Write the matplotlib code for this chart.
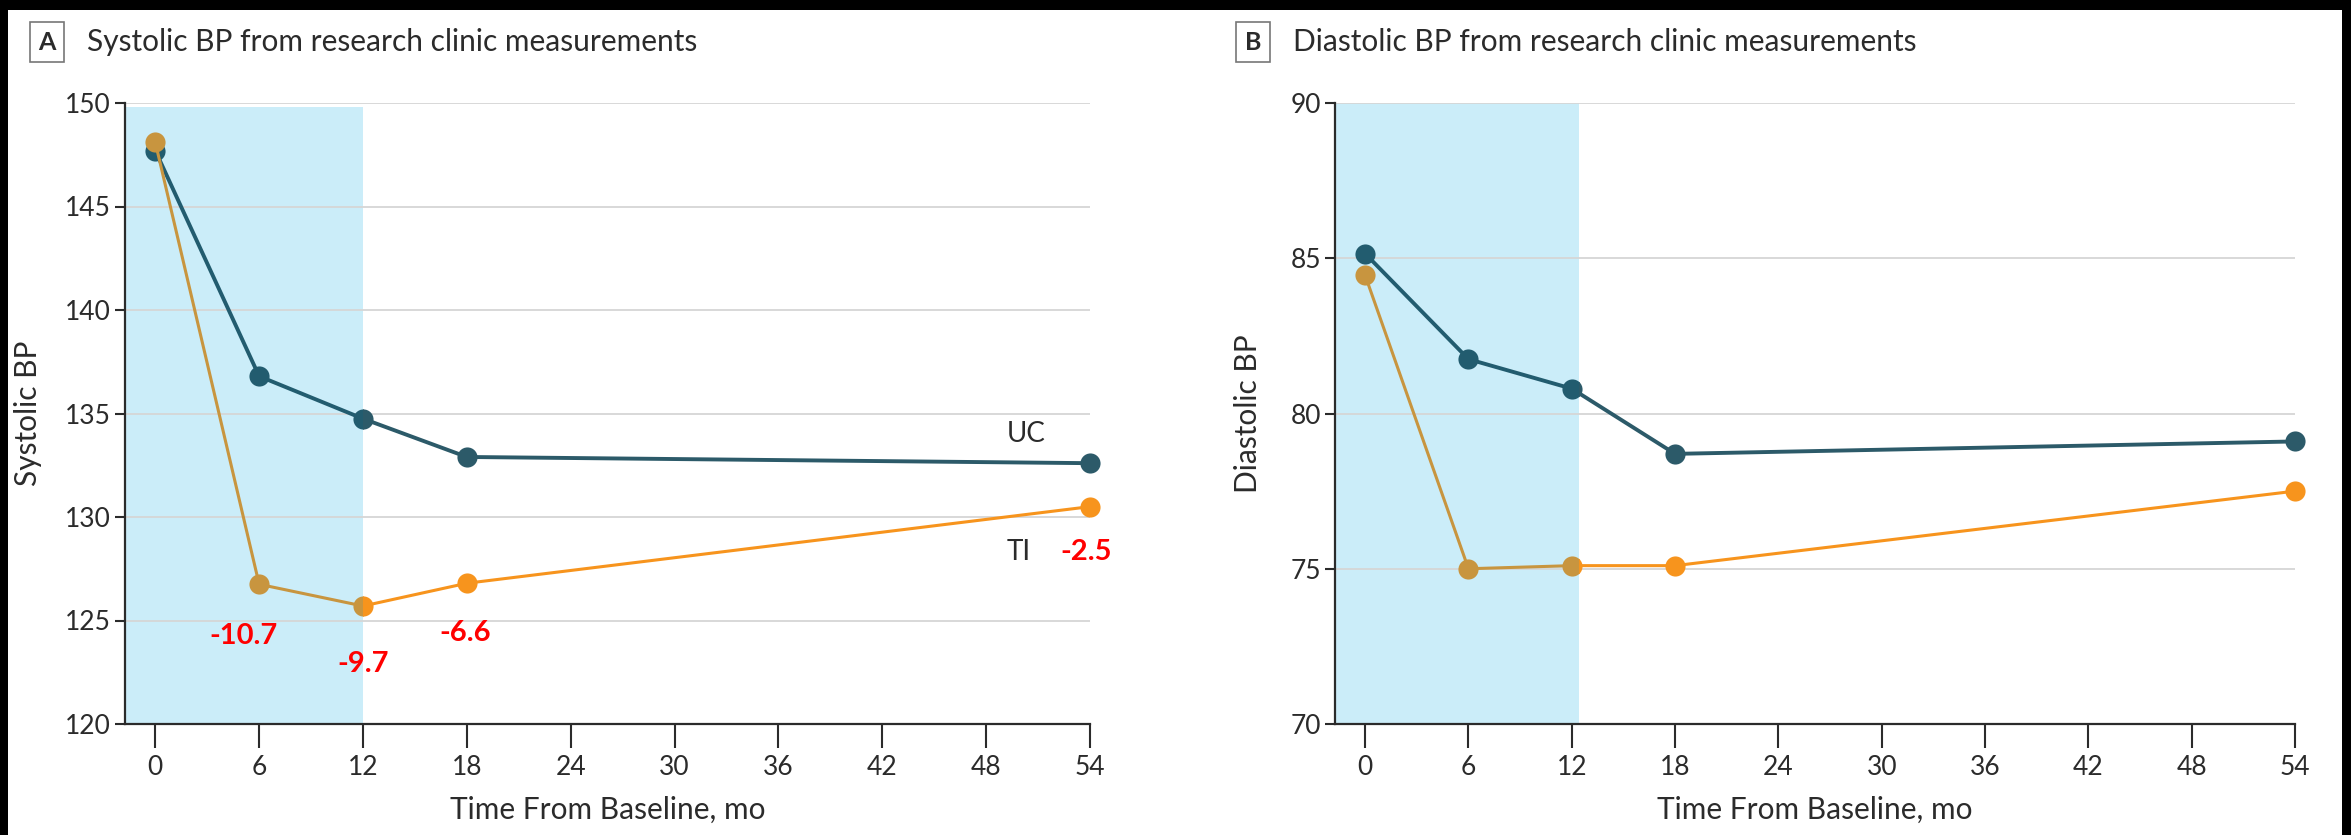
import matplotlib.pyplot as plt
from matplotlib.patches import Rectangle

plt.rcParams["font.family"] = ["Lato", "DejaVu Sans"]

months = [0, 6, 12, 18, 54]
xticks = [0, 6, 12, 18, 24, 30, 36, 42, 48, 54]

sys_uc = [147.7, 136.8, 134.75, 132.9, 132.6]
sys_ti = [148.1, 126.75, 125.7, 126.8, 130.5]
dia_uc = [85.15, 81.75, 80.8, 78.7, 79.1]
dia_ti = [84.45, 75.0, 75.1, 75.1, 77.5]

sys_diff_x = [6, 12, 18, 54]
sys_diff_lbl = ["-10.7", "-9.7", "-6.6", "-2.5"]

UC, UC_IN = "#2c5a69", "#225c6f"
TI, TI_IN = "#f7941d", "#c8953f"
SHADE = "#cbedf9"
INK = "#2b2b2b"

W, H = 2351, 835
fig = plt.figure(figsize=(W / 100, H / 100), dpi=100, facecolor="black")
fig.patches.append(Rectangle((8 / W, 0), (2342 - 8) / W, (H - 10) / H,
                             transform=fig.transFigure, facecolor="white",
                             edgecolor="none", zorder=-10))

bot, top = 1 - 724 / H, 1 - 103 / H
axA = fig.add_axes([125 / W, bot, (1090 - 125) / W, top - bot])
axB = fig.add_axes([1335 / W, bot, (2295 - 1335) / W, top - bot])


def panel(ax, uc, ti, ylim, yticks, span_end, span_top, ylabel, ylab_x):
    x0 = -1.75
    ax.set_xlim(x0, 54)
    ax.set_ylim(*ylim)
    ax.set_facecolor("none")
    shade = Rectangle((x0, ylim[0]), span_end - x0, span_top - ylim[0],
                      facecolor=SHADE, edgecolor="none", zorder=0)
    ax.add_patch(shade)
    for y in yticks[1:]:
        ax.plot([x0, 54], [y, y], color="#d6d6d6", lw=1.3, zorder=1)

    # lines look darker where they cross the shaded baseline window
    inside = Rectangle((x0 - 5, ylim[0] - 50), span_end - x0 + 5, 200,
                       transform=ax.transData, visible=False)
    outside = Rectangle((span_end, ylim[0] - 50), 100, 200,
                        transform=ax.transData, visible=False)
    ax.add_patch(inside)
    ax.add_patch(outside)
    for vals, c_out, c_in, lw in ((uc, UC, UC_IN, 2.8), (ti, TI, TI_IN, 2.2)):
        for col, clip in ((c_in, inside), (c_out, outside)):
            ln, = ax.plot(months, vals, "-o", color=col, lw=lw, ms=14.5,
                          markeredgewidth=0, zorder=3, clip_on=True)
            ln.set_clip_path(clip)

    ax.set_xticks(xticks)
    ax.set_yticks(yticks)
    for s in ("top", "right"):
        ax.spines[s].set_visible(False)
    for s in ("left", "bottom"):
        ax.spines[s].set_color(INK)
        ax.spines[s].set_linewidth(1.6)
        ax.spines[s].set_zorder(4)
    ax.spines["bottom"].set_bounds(x0, 54)
    ax.tick_params(axis="x", length=17, width=1.5, color=INK, labelsize=19,
                   labelcolor=INK, pad=5)
    ax.tick_params(axis="y", length=7, width=1.5, color=INK, labelsize=19,
                   labelcolor=INK, pad=3)
    ax.set_xlabel("Time From Baseline, mo", fontsize=21.5, color=INK, labelpad=12)
    ax.set_ylabel(ylabel, fontsize=21.5, color=INK)
    ax.yaxis.set_label_coords(ylab_x, 0.5)


panel(axA, sys_uc, sys_ti, (120, 150), [120, 125, 130, 135, 140, 145, 150],
      12, 149.8, "Systolic BP", -0.086)
panel(axB, dia_uc, dia_ti, (70, 90), [70, 75, 80, 85, 90],
      12.4, 90, "Diastolic BP", -0.076)

axA.text(50.3, 134.0, "UC", fontsize=20, color=INK, ha="center", va="center")
axA.text(49.9, 128.3, "TI", fontsize=20, color=INK, ha="center", va="center")
lbl_y = [124.25, 122.9, 124.4, 128.3]
lbl_dx = [-0.9, 0.0, -0.1, -0.2]
for x, dx, y, s in zip(sys_diff_x, lbl_dx, lbl_y, sys_diff_lbl):
    axA.text(x + dx, y, s, fontsize=21, color="red", fontweight="bold",
             ha="center", va="center")

# panel headers: boxed letter then title
for px, letter, title in ((27, "A", "Systolic BP from research clinic measurements"),
                          (1233, "B", "Diastolic BP from research clinic measurements")):
    fig.text((px + 20) / W, 1 - 42 / H, letter, fontsize=18, color=INK,
             ha="center", va="center", fontweight="bold",
             bbox=dict(boxstyle="square,pad=0.35", facecolor="white",
                       edgecolor="#777777", lw=1.2))
    fig.text((px + 60) / W, 1 - 42 / H, title, fontsize=21.5, color=INK,
             ha="left", va="center")

fig.savefig("out.png", dpi=100, facecolor=fig.get_facecolor())
